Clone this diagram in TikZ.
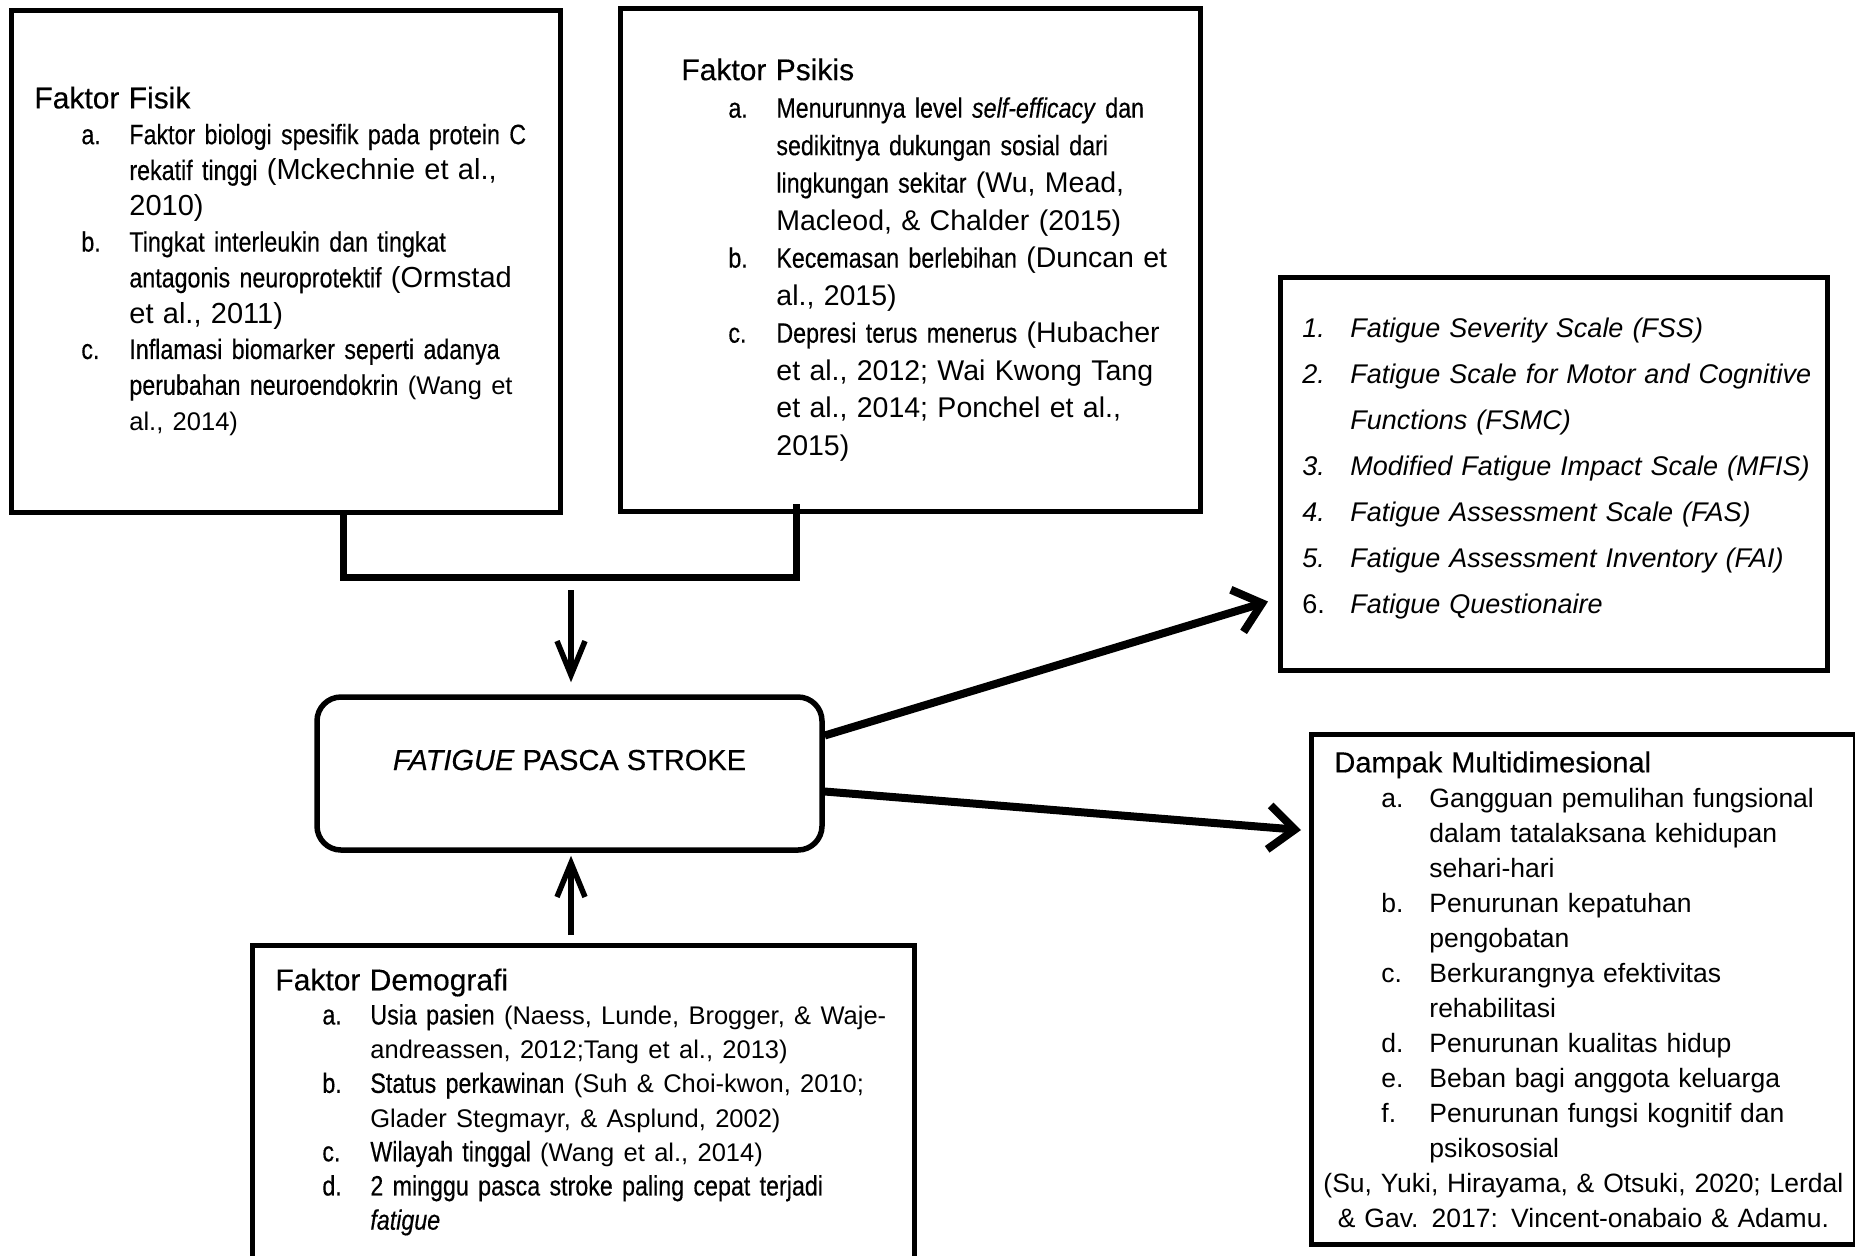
\documentclass[tikz,border=0pt]{standalone}
\usepackage{fontspec}
\setmainfont{Liberation Sans}
\newfontfamily\condfont[FakeStretch=0.83,FakeBold=0.35]{Liberation Sans}
\newfontfamily\headfam[FakeBold=0.35]{Liberation Sans}
\usetikzlibrary{%
    arrows.meta,
    calc,
    positioning
}
\newlength\lblindent
\newlength\txtindent
\setlength\lblindent{23.5pt}
\setlength\txtindent{47.5pt}
\newcommand\citpt{14.25}
\newcommand\entry[1]{\par\hangindent=\txtindent\hangafter=1\noindent\makebox[\txtindent][l]{\hspace*{\lblindent}#1}}
\newcommand\cit[1]{{\normalfont\fontsize{\citpt}{18}\selectfont #1}}
\newcommand\headfont{\headfam\fontsize{15}{17.5}\selectfont}
\tikzset{
    factorbox/.style = {draw, line width=2.25pt, anchor=north west, inner sep=0pt},
    listtext/.style = {text width=340pt, align=left, inner sep=0pt},
    thickarrow/.style = {line width=4pt, -{Straight Barb[length=13pt,width=22pt]}},
    thinarrow/.style = {line width=2.75pt, -{Straight Barb[length=17pt,width=14pt]}},
    bracketline/.style = {line width=3.5pt}
}

\begin{document}
\begin{tikzpicture}[x=0.5pt, y=-0.5pt]
    \useasboundingbox (0,0) rectangle (1855,1255);

    % kotak-kotak
    \node[factorbox, minimum width=274.5pt, minimum height=251pt] (fisik) at (9,8) {};
    \node[factorbox, minimum width=290pt, minimum height=251.5pt] (psikis) at (618,6) {};
    \node[factorbox, line width=2.5pt, minimum width=331pt, minimum height=156.5pt] (demografi) at (250,943) {};
    \node[factorbox, minimum width=273.5pt, minimum height=196.5pt] (skala) at (1278,275) {};
    \node[factorbox, line width=2.5pt, minimum width=272pt, minimum height=255pt] (dampak) at (1309,732) {};
    \node[draw, line width=2.75pt, rounded corners=12pt, minimum width=252.5pt, minimum height=76.5pt,
        font=\headfam\fontsize{14.5}{17}\selectfont, text height=8pt, text depth=11.5pt] (stroke) at (569.5,773.5)
        {\textit{FATIGUE} PASCA STROKE};

    % isi kotak
    \node[listtext, right=12.5pt of fisik.west, font=\condfont\fontsize{14}{17.9}\selectfont] (fisiklist) {%
        \renewcommand\citpt{14.5}%
        {\headfont Faktor Fisik\par}
        \entry{a.}Faktor biologi spesifik pada protein C\newline
        rekatif tinggi \cit{(Mckechnie et al.,\newline 2010)}
        \entry{b.}Tingkat interleukin dan tingkat\newline
        antagonis neuroprotektif \cit{(Ormstad\newline et al., 2011)}
        \renewcommand\citpt{12.75}%
        \entry{c.}Inflamasi biomarker seperti adanya\newline
        perubahan neuroendokrin \cit{(Wang et\newline al., 2014)}\par};
    \node[listtext, right=31.5pt of psikis.west, font=\condfont\fontsize{14}{18.75}\selectfont] (psikislist) {%
        {\headfont Faktor Psikis\par}
        \entry{a.}Menurunnya level \textit{self-efficacy} dan\newline
        sedikitnya dukungan sosial dari\newline
        lingkungan sekitar \cit{(Wu, Mead,\newline Macleod, \& Chalder (2015)}
        \entry{b.}Kecemasan berlebihan \cit{(Duncan et\newline al., 2015)}
        \entry{c.}Depresi terus menerus \cit{(Hubacher\newline
        et al., 2012; Wai Kwong Tang\newline
        et al., 2014; Ponchel et al.,\newline 2015)}\par};
    \node[listtext, right=12.5pt of demografi.west, font=\condfont\fontsize{14}{17.1}\selectfont] (demografilist) {%
        \renewcommand\citpt{12.75}%
        {\headfont Faktor Demografi\par}
        \entry{a.}Usia pasien \cit{(Naess, Lunde, Brogger, \& Waje-\newline
        andreassen, 2012;Tang et al., 2013)}
        \entry{b.}Status perkawinan \cit{(Suh \& Choi-kwon, 2010;\newline
        Glader Stegmayr, \& Asplund, 2002)}
        \entry{c.}Wilayah tinggal \cit{(Wang et al., 2014)}
        \entry{d.}2 minggu pasca stroke paling cepat terjadi\newline
        \textit{fatigue}\par};
    \node[listtext, right=12pt of skala.west, yshift=9pt, font=\itshape\fontsize{13.5}{23}\selectfont] (skalalist) {%
        \setlength\lblindent{0pt}\setlength\txtindent{24pt}%
        \entry{1.}Fatigue Severity Scale (FSS)
        \entry{2.}Fatigue Scale for Motor and Cognitive\newline Functions (FSMC)
        \entry{3.}Modified Fatigue Impact Scale (MFIS)
        \entry{4.}Fatigue Assessment Scale (FAS)
        \entry{5.}Fatigue Assessment Inventory (FAI)
        \entry{\textup{6.}}Fatigue Questionaire\par};
    \node[listtext, text width=249pt, right=12.5pt of dampak.west, font=\fontsize{13.25}{17.5}\selectfont] (dampaklist) {%
        {\headfam\fontsize{14.5}{17.5}\selectfont Dampak Multidimesional\par}
        \entry{a.}Gangguan pemulihan fungsional\newline dalam tatalaksana kehidupan\newline sehari-hari
        \entry{b.}Penurunan kepatuhan\newline pengobatan
        \entry{c.}Berkurangnya efektivitas\newline rehabilitasi
        \entry{d.}Penurunan kualitas hidup
        \entry{e.}Beban bagi anggota keluarga
        \entry{f.}Penurunan fungsi kognitif dan\newline psikososial
        \par\noindent\makebox[\linewidth]{(Su, Yuki, Hirayama, \& Otsuki, 2020; Lerdal}
        \par\noindent\makebox[\linewidth]{\& Gav. 2017: Vincent-onabaio \& Adamu.}\par};

    % penghubung
    \coordinate (sikuL) at (343,577);
    \coordinate (sikuR) at (796,577);
    \coordinate (gabung) at (571,590);
    \draw[bracketline] (fisik.south -| sikuL) -- (sikuL) -- (sikuR) -- ($(psikis.south -| sikuR)+(0,-10)$);
    \draw[thinarrow, shorten >=6pt] (gabung) -- (gabung |- stroke.north);
    \draw[thinarrow, shorten >=1.5pt] ($(demografi.north -| gabung)+(0,-8)$) -- (gabung |- stroke.south);
    \draw[thickarrow] ($(stroke.east)+(0,-38)$) -- ($(skala.south west)+(-10,-71)$);
    \draw[thickarrow] ($(stroke.east)+(0,18)$) -- ($(dampak.north west)+(-8,98)$);
\end{tikzpicture}
\end{document}
